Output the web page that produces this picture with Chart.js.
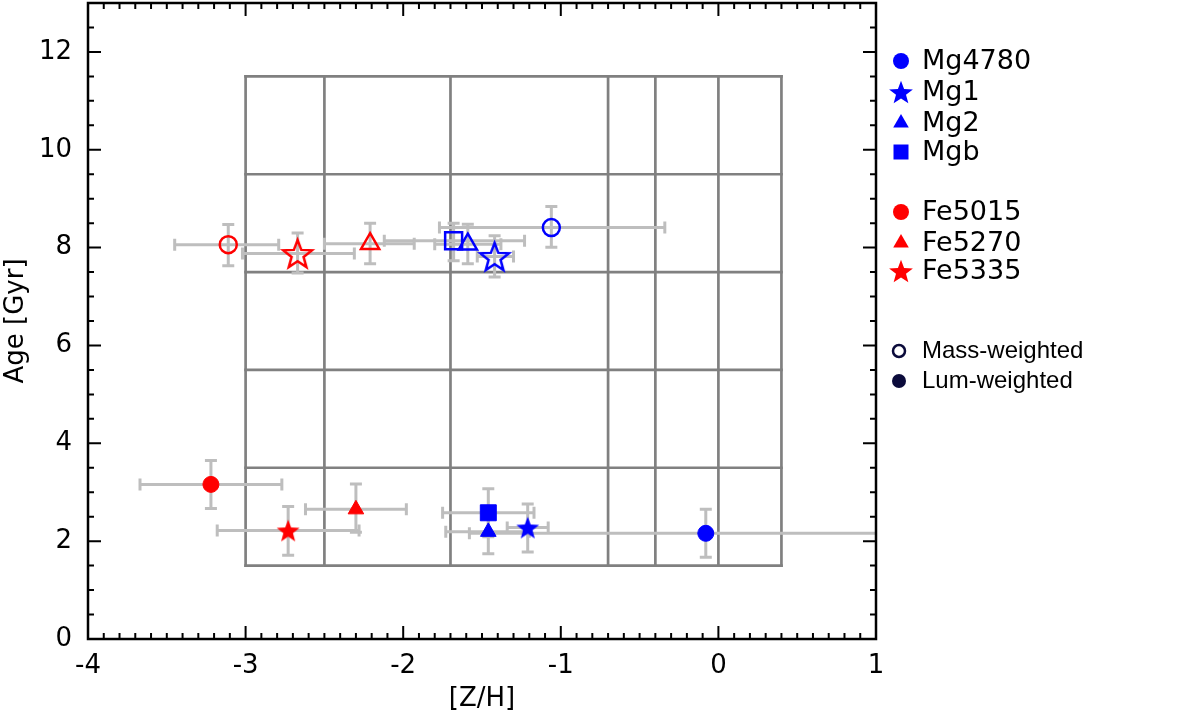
<!DOCTYPE html>
<html>
<head>
<meta charset="utf-8">
<title>Age vs [Z/H]</title>
<script src="https://cdn.jsdelivr.net/npm/chart.js@4.4.1/dist/chart.umd.min.js"></script>
<style>
    html, body { margin: 0; padding: 0; background: #ffffff; }
</style>
</head>
<body>
<canvas id="ageChart" width="1198" height="717"></canvas>
<script>
// Indices and how they are drawn
const indices = ['Mg4780', 'Mg1', 'Mg2', 'Mgb', 'Fe5015', 'Fe5270', 'Fe5335'];
const colors = ['#0000ff', '#0000ff', '#0000ff', '#0000ff', '#ff0000', '#ff0000', '#ff0000'];
const shapes = ['circle', 'star', 'triangle', 'rect', 'circle', 'triangle', 'star'];

// Mass-weighted (open symbols)
const massZ = [-1.06, -1.42, -1.59, -1.68, -3.11, -2.21, -2.67];
const massZLow = [-1.77, -1.53, -1.80, -2.12, -3.45, -2.50, -3.02];
const massZHigh = [-0.34, -1.30, -1.38, -1.23, -2.79, -1.93, -2.31];
const massAge = [8.41, 7.82, 8.07, 8.14, 8.06, 8.08, 7.88];
const massAgeLow = [8.01, 7.40, 7.67, 7.73, 7.63, 7.67, 7.48];
const massAgeHigh = [8.84, 8.24, 8.48, 8.50, 8.47, 8.50, 8.30];

// Lum-weighted (filled symbols)
const lumZ = [-0.08, -1.21, -1.46, -1.46, -3.22, -2.30, -2.73];
const lumZLow = [-1.58, -1.34, -1.73, -1.75, -3.67, -2.62, -3.18];
const lumZHigh = [1.42, -1.08, -1.20, -1.17, -2.77, -1.98, -2.28];
const lumAge = [2.16, 2.28, 2.19, 2.58, 3.16, 2.65, 2.22];
const lumAgeLow = [1.67, 1.78, 1.74, 2.09, 2.67, 2.18, 1.71];
const lumAgeHigh = [2.65, 2.76, 2.64, 3.07, 3.65, 3.17, 2.71];

// Model grid lines
const gridZ = [-3, -2.5, -1.7, -0.7, -0.4, 0, 0.4];
const gridAge = [1.5, 3.5, 5.5, 7.5, 9.5, 11.5];

// Axis ticks
const xTicks = [-4, -3, -2, -1, 0, 1];
const yTicks = [0, 2, 4, 6, 8, 10, 12];

const GRAY_BAR = 'rgb(190, 190, 190)';
const GRAY_GRID = 'rgb(128, 128, 128)';
const NAVY = '#0b0b3b';

function starPath(ctx, x, y, R) {
    const r = R * 0.42;
    ctx.beginPath();
    for (let i = 0; i < 10; i++) {
        const rad = i % 2 === 0 ? R : r;
        const a = -Math.PI / 2 + i * Math.PI / 5;
        const px = x + rad * Math.cos(a);
        const py = y + rad * Math.sin(a);
        if (i === 0) ctx.moveTo(px, py); else ctx.lineTo(px, py);
    }
    ctx.closePath();
}

function makeStar(color, R, filled) {
    const lw = filled ? 0 : 2.5;
    const size = Math.ceil(2 * R + lw + 4);
    const c = document.createElement('canvas');
    c.width = size;
    c.height = size;
    const ctx = c.getContext('2d');
    starPath(ctx, size / 2, size / 2 + R * 0.1, R);
    if (filled) {
        ctx.fillStyle = color;
        ctx.fill();
    } else {
        ctx.strokeStyle = color;
        ctx.lineWidth = lw;
        ctx.stroke();
    }
    return c;
}

// draw a legend symbol by hand
function drawSymbol(ctx, shape, x, y, size, color, filled) {
    ctx.save();
    ctx.fillStyle = color;
    ctx.strokeStyle = color;
    ctx.lineWidth = 2.5;
    if (shape === 'star') {
        starPath(ctx, x, y + size * 0.1, size);
    } else if (shape === 'circle') {
        ctx.beginPath();
        ctx.arc(x, y, size, 0, Math.PI * 2);
    } else if (shape === 'triangle') {
        ctx.beginPath();
        ctx.moveTo(x, y - size);
        ctx.lineTo(x + size * 0.866, y + size * 0.5);
        ctx.lineTo(x - size * 0.866, y + size * 0.5);
        ctx.closePath();
    } else {
        ctx.beginPath();
        ctx.rect(x - size, y - size, size * 2, size * 2);
    }
    if (filled) ctx.fill(); else ctx.stroke();
    ctx.restore();
}

const openRadius = { circle: 8.5, triangle: 10.5, rect: 12 };
const fullRadius = { circle: 8, triangle: 9, rect: 11.3 };

const datasets = [];
indices.forEach((name, i) => {
    datasets.push({
        label: name + ' (mass)',
        data: [{ x: massZ[i], y: massAge[i] }],
        pointStyle: shapes[i] === 'star' ? makeStar(colors[i], 15, false) : shapes[i],
        pointRadius: openRadius[shapes[i]] || 15,
        pointBackgroundColor: 'rgba(0,0,0,0)',
        pointBorderColor: colors[i],
        pointBorderWidth: 2.5,
    });
    datasets.push({
        label: name + ' (lum)',
        data: [{ x: lumZ[i], y: lumAge[i] }],
        pointStyle: shapes[i] === 'star' ? makeStar(colors[i], 12, true) : shapes[i],
        pointRadius: fullRadius[shapes[i]] || 12,
        pointBackgroundColor: colors[i],
        pointBorderColor: colors[i],
        pointBorderWidth: 1,
    });
});

// Model grid box behind everything
const gridPlugin = {
    id: 'gridBox',
    beforeDatasetsDraw(chart) {
        const { ctx, scales: { x, y } } = chart;
        ctx.save();
        ctx.strokeStyle = GRAY_GRID;
        ctx.lineWidth = 2.7;
        ctx.lineCap = 'square';
        const x0 = x.getPixelForValue(gridZ[0]);
        const x1 = x.getPixelForValue(gridZ[gridZ.length - 1]);
        const y0 = y.getPixelForValue(gridAge[0]);
        const y1 = y.getPixelForValue(gridAge[gridAge.length - 1]);
        gridZ.forEach((v) => {
            const px = x.getPixelForValue(v);
            ctx.beginPath();
            ctx.moveTo(px, y0);
            ctx.lineTo(px, y1);
            ctx.stroke();
        });
        gridAge.forEach((v) => {
            const py = y.getPixelForValue(v);
            ctx.beginPath();
            ctx.moveTo(x0, py);
            ctx.lineTo(x1, py);
            ctx.stroke();
        });
        ctx.restore();
    },
};

// Error bars, drawn after the grid and before the symbols
const errorPlugin = {
    id: 'errorBars',
    beforeDatasetsDraw(chart) {
        const { ctx, chartArea, scales: { x, y } } = chart;
        const cap = 6;
        ctx.save();
        ctx.beginPath();
        ctx.rect(chartArea.left, chartArea.top, chartArea.right - chartArea.left, chartArea.bottom - chartArea.top);
        ctx.clip();
        ctx.strokeStyle = GRAY_BAR;
        ctx.lineWidth = 3;

        function bars(zc, zl, zh, ac, al, ah) {
            const px = x.getPixelForValue(zc);
            const py = y.getPixelForValue(ac);
            const pl = x.getPixelForValue(zl);
            const ph = x.getPixelForValue(zh);
            const pt = y.getPixelForValue(ah);
            const pb = y.getPixelForValue(al);
            ctx.beginPath();
            ctx.moveTo(pl, py); ctx.lineTo(ph, py);
            ctx.moveTo(pl, py - cap); ctx.lineTo(pl, py + cap);
            ctx.moveTo(ph, py - cap); ctx.lineTo(ph, py + cap);
            ctx.moveTo(px, pt); ctx.lineTo(px, pb);
            ctx.moveTo(px - cap, pt); ctx.lineTo(px + cap, pt);
            ctx.moveTo(px - cap, pb); ctx.lineTo(px + cap, pb);
            ctx.stroke();
        }

        indices.forEach((name, i) => {
            bars(massZ[i], massZLow[i], massZHigh[i], massAge[i], massAgeLow[i], massAgeHigh[i]);
            bars(lumZ[i], lumZLow[i], lumZHigh[i], lumAge[i], lumAgeLow[i], lumAgeHigh[i]);
        });
        ctx.restore();
    },
};

// Frame with inward ticks on all four sides
const framePlugin = {
    id: 'frame',
    afterDraw(chart) {
        const { ctx, chartArea: a, scales: { x, y } } = chart;
        ctx.save();
        ctx.strokeStyle = '#000';
        ctx.lineWidth = 2;
        for (let v = x.min; v <= x.max + 1e-9; v += 0.1) {
            const px = x.getPixelForValue(v);
            const major = Math.abs(v - Math.round(v)) < 1e-6;
            const len = major ? 13 : 6;
            ctx.beginPath();
            ctx.moveTo(px, a.bottom); ctx.lineTo(px, a.bottom - len);
            ctx.moveTo(px, a.top); ctx.lineTo(px, a.top + len);
            ctx.stroke();
        }
        for (let v = y.min; v <= y.max + 1e-9; v += 0.5) {
            const py = y.getPixelForValue(v);
            const major = Math.abs(v / 2 - Math.round(v / 2)) < 1e-6;
            const len = major ? 13 : 6;
            ctx.beginPath();
            ctx.moveTo(a.left, py); ctx.lineTo(a.left + len, py);
            ctx.moveTo(a.right, py); ctx.lineTo(a.right - len, py);
            ctx.stroke();
        }
        ctx.lineWidth = 2.5;
        ctx.strokeRect(a.left, a.top, a.right - a.left, a.bottom - a.top);
        ctx.restore();
    },
};

// Legend on the right
const legendPlugin = {
    id: 'sideLegend',
    afterDraw(chart) {
        const ctx = chart.ctx;
        const symX = 901;
        const textX = 922;
        const rows = [61, 92, 123, 152, 212, 243, 271];
        const legendSize = { circle: 8, star: 12.5, triangle: 9, rect: 7.5 };
        ctx.save();
        ctx.textBaseline = 'middle';
        ctx.fillStyle = '#000';
        ctx.font = '27px "DejaVu Sans"';
        indices.forEach((name, i) => {
            drawSymbol(ctx, shapes[i], symX, rows[i], legendSize[shapes[i]], colors[i], true);
            ctx.fillStyle = '#000';
            ctx.fillText(name, textX, rows[i] + 1);
        });
        ctx.font = '24px "Liberation Sans"';
        drawSymbol(ctx, 'circle', 899, 351, 6, NAVY, false);
        ctx.fillStyle = '#000';
        ctx.fillText('Mass-weighted', textX, 351);
        drawSymbol(ctx, 'circle', 899, 381, 7, NAVY, true);
        ctx.fillStyle = '#000';
        ctx.fillText('Lum-weighted', textX, 381);
        ctx.restore();
    },
};

const tickFont = { family: 'DejaVu Sans', size: 26 };

new Chart(document.getElementById('ageChart').getContext('2d'), {
    type: 'scatter',
    data: { datasets: datasets },
    options: {
        responsive: false,
        animation: false,
        layout: { autoPadding: false, padding: { top: 3, right: 322, left: 0, bottom: 0 } },
        scales: {
            x: {
                type: 'linear',
                min: -4,
                max: 1,
                grid: { display: false },
                border: { display: false },
                afterBuildTicks: (axis) => { axis.ticks = xTicks.map((v) => ({ value: v })); },
                afterFit: (axis) => {
                    axis.height = 78;
                    axis.paddingLeft = 0;
                    axis.paddingRight = 0;
                },
                ticks: { font: tickFont, color: '#000', padding: 4, autoSkip: false, maxRotation: 0 },
                title: { display: true, text: '[Z/H]', font: tickFont, color: '#000', padding: { top: 0, bottom: 2 } },
            },
            y: {
                type: 'linear',
                min: 0,
                max: 13,
                grid: { display: false },
                border: { display: false },
                afterBuildTicks: (axis) => { axis.ticks = yTicks.map((v) => ({ value: v })); },
                afterFit: (axis) => {
                    axis.width = 88;
                    axis.paddingTop = 0;
                    axis.paddingBottom = 0;
                },
                ticks: { font: tickFont, color: '#000', padding: 8, autoSkip: false },
                title: { display: true, text: 'Age [Gyr]', font: tickFont, color: '#000', padding: { top: 1, bottom: 0 } },
            },
        },
        plugins: {
            legend: { display: false },
            tooltip: { enabled: false },
        },
    },
    plugins: [gridPlugin, errorPlugin, framePlugin, legendPlugin],
});
</script>
</body>
</html>
